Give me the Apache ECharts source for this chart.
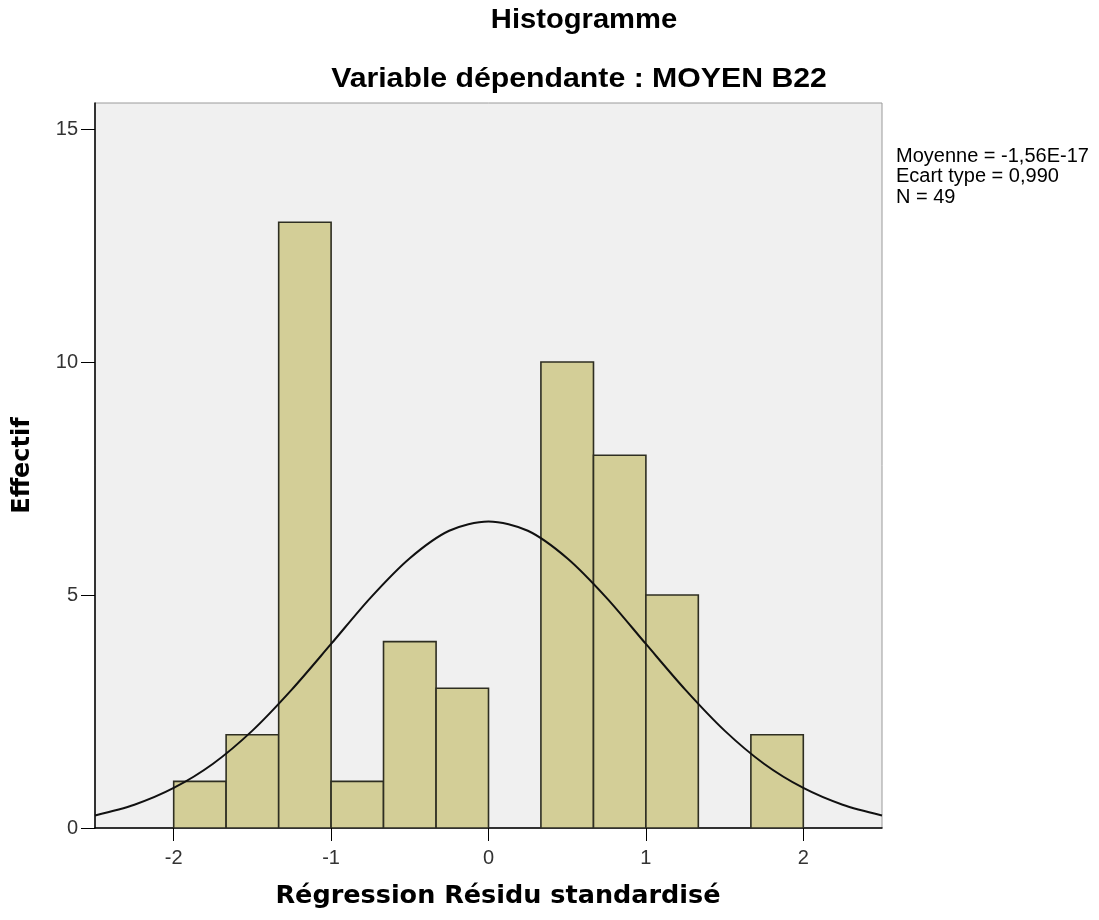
<!DOCTYPE html>
<html>
<head>
<meta charset="utf-8">
<script src="https://cdn.jsdelivr.net/npm/echarts@6/dist/echarts.min.js"></script>
<style>
  html, body { margin: 0; padding: 0; background: #fff; }
  #main { width: 1099px; height: 920px; }
</style>
</head>
<body>
<div id="main"></div>
<script>
// bin edges and counts of the histogram
var binEdges = [-2, -1.667, -1.333, -1, -0.667, -0.333, 0, 0.333, 0.667, 1, 1.333, 1.667, 2];
var counts = [1, 2, 13, 1, 4, 3, 0, 10, 8, 5, 0, 2];

// normal curve
var curveX = [-2.5, -2.25, -2, -1.75, -1.5, -1.25, -1, -0.75, -0.5, -0.25, 0, 0.25, 0.5, 0.75, 1, 1.25, 1.5, 1.75, 2, 2.25, 2.5];
var curveY = [0.27, 0.5, 0.86, 1.38, 2.09, 2.97, 3.95, 4.94, 5.79, 6.38, 6.58, 6.38, 5.79, 4.94, 3.95, 2.97, 2.09, 1.38, 0.86, 0.5, 0.27];

var xTicks = [-2, -1, 0, 1, 2];
var yTicks = [0, 5, 10, 15];
var statsLines = ['Moyenne = -1,56E-17', 'Ecart type = 0,990', 'N = 49'];

var font = 'Arial, "Liberation Sans", sans-serif';
var axisFont = '"DejaVu Sans", Verdana, sans-serif';

var bars = counts.map(function (c, i) {
  return [binEdges[i], binEdges[i + 1], c];
}).filter(function (d) { return d[2] > 0; });

var chart = echarts.init(document.getElementById('main'));

chart.setOption({
  animation: false,
  grid: {
    left: 95, right: 217, top: 103, bottom: 92,
    outerBoundsMode: 'none',
    containLabel: false,
    show: true,
    backgroundColor: '#F0F0F0',
    borderColor: '#9a9a9a',
    borderWidth: 1
  },
  graphic: [
    { type: 'text', x: 584, y: 21, scaleX: 1.08, style: { text: 'Histogramme', font: 'bold 27px ' + font, fill: '#000', align: 'center', verticalAlign: 'middle' } },
    { type: 'text', x: 579, y: 80, scaleX: 1.12, style: { text: 'Variable dépendante : MOYEN B22', font: 'bold 27px ' + font, fill: '#000', align: 'center', verticalAlign: 'middle' } },
    { type: 'text', x: 896, y: 146, style: { text: statsLines.join('\n'), font: '20px ' + font, lineHeight: 20.5, fill: '#000', align: 'left', verticalAlign: 'top' } },
    { type: 'text', x: 498, y: 896, style: { text: 'Régression Résidu standardisé', font: 'bold 25.5px ' + axisFont, fill: '#000', align: 'center', verticalAlign: 'middle' } }
  ],
  xAxis: {
    type: 'value',
    min: -2.5, max: 2.5,
    axisLine: { onZero: false, lineStyle: { color: '#000', width: 1.5 } },
    axisTick: { show: true, length: 13, customValues: xTicks, lineStyle: { color: '#000' } },
    axisLabel: { customValues: xTicks, margin: 20, fontFamily: font, fontSize: 20, color: '#333' },
    splitLine: { show: false }
  },
  yAxis: {
    type: 'value',
    min: 0, max: 15.56,
    name: 'Effectif',
    nameLocation: 'middle',
    nameGap: 60,
    nameTextStyle: { fontFamily: axisFont, fontWeight: 'bold', fontSize: 24, color: '#000' },
    axisLine: { show: true, onZero: false, lineStyle: { color: '#000', width: 1.5 } },
    axisTick: { show: true, length: 14, customValues: yTicks, lineStyle: { color: '#000' } },
    axisLabel: { customValues: yTicks, margin: 17, fontFamily: font, fontSize: 20, color: '#333' },
    splitLine: { show: false }
  },
  series: [
    {
      type: 'custom',
      data: bars,
      clip: true,
      renderItem: function (params, api) {
        var p0 = api.coord([api.value(0), 0]);
        var p1 = api.coord([api.value(1), api.value(2)]);
        return {
          type: 'rect',
          shape: { x: p0[0], y: p1[1], width: p1[0] - p0[0], height: p0[1] - p1[1] },
          style: { fill: '#D3CE97', stroke: '#2e2e22', lineWidth: 1.6 }
        };
      },
      z: 2
    },
    {
      type: 'line',
      data: curveX.map(function (x, i) { return [x, curveY[i]]; }),
      smooth: 0.3,
      showSymbol: false,
      lineStyle: { color: '#111', width: 2 },
      z: 3
    }
  ]
});
</script>
</body>
</html>
